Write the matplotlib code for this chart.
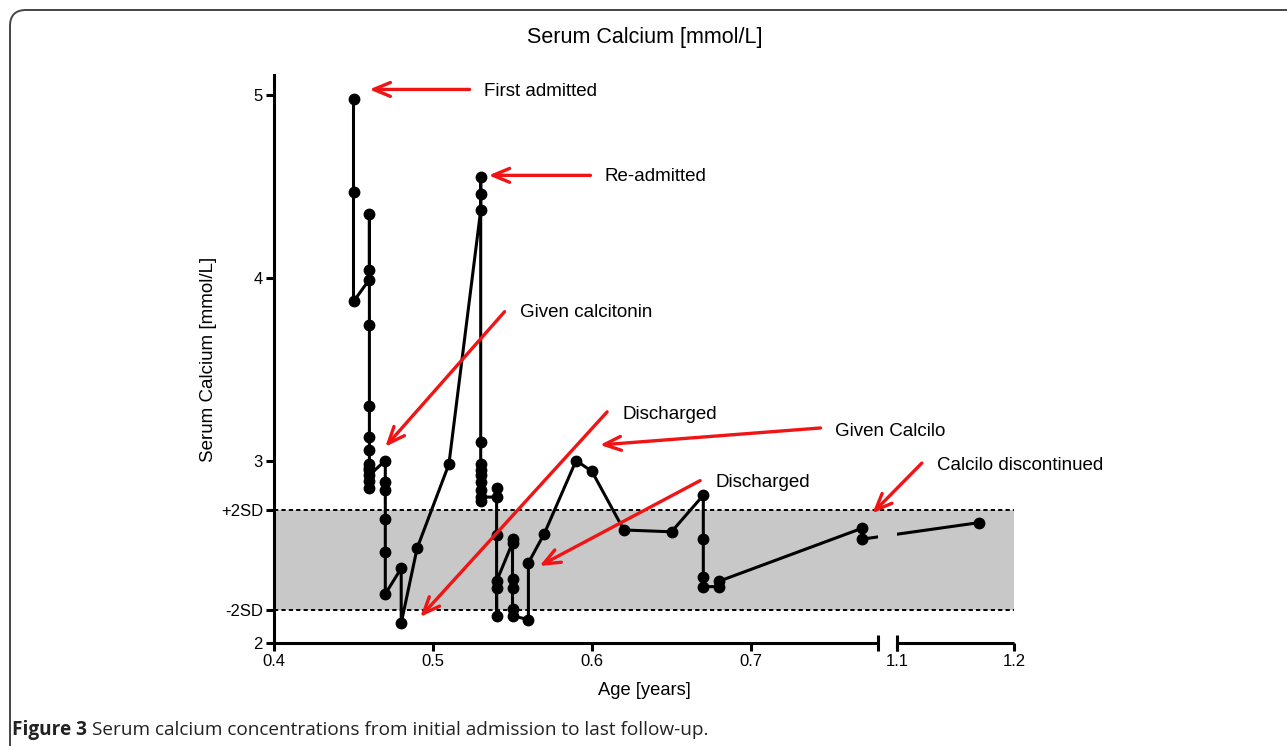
import numpy as np
import matplotlib
matplotlib.use("Agg")
import matplotlib.pyplot as plt
from matplotlib import font_manager
from matplotlib.path import Path
from matplotlib.patches import FancyBboxPatch
from matplotlib.transforms import IdentityTransform, blended_transform_factory

plt.rcParams['font.family'] = ['Liberation Sans', 'DejaVu Sans']

# serum calcium readings in time order (age in years, mmol/L)
age = [0.45, 0.45, 0.45,
       0.46, 0.46, 0.46, 0.46, 0.46, 0.46, 0.46, 0.46, 0.46, 0.46, 0.46, 0.46, 0.46,
       0.47, 0.47, 0.47, 0.47, 0.47, 0.47,
       0.48, 0.48, 0.49, 0.51,
       0.53, 0.53, 0.53, 0.53, 0.53, 0.53, 0.53, 0.53, 0.53, 0.53, 0.53,
       0.54, 0.54, 0.54, 0.54, 0.54, 0.54,
       0.55, 0.55, 0.55, 0.55, 0.55, 0.55,
       0.56, 0.56, 0.57, 0.59, 0.60, 0.62, 0.65,
       0.67, 0.67, 0.67, 0.67, 0.68, 0.68,
       0.77, 0.77, 1.17]
calcium = [4.98, 4.47, 3.87,
           3.99, 4.04, 4.35, 3.74, 3.30, 3.13, 3.06, 2.98, 2.96, 2.89, 2.85, 2.95, 2.92,
           3.00, 2.88, 2.84, 2.68, 2.50, 2.27,
           2.41, 2.11, 2.52, 2.98,
           4.37, 4.46, 4.55, 3.10, 2.98, 2.95, 2.92, 2.88, 2.84, 2.78, 2.80,
           2.80, 2.85, 2.59, 2.30, 2.15, 2.34,
           2.55, 2.57, 2.35, 2.30, 2.19, 2.15,
           2.13, 2.44, 2.60, 3.00, 2.94, 2.62, 2.61,
           2.81, 2.57, 2.36, 2.31, 2.31, 2.34,
           2.63, 2.57, 2.66]

sd_low = 2.18
sd_high = 2.73

x_ticks = [0.4, 0.5, 0.6, 0.7, 1.1, 1.2]
x_tick_labels = ['0.4', '0.5', '0.6', '0.7', '1.1', '1.2']
y_ticks = [2, sd_low, sd_high, 3, 4, 5]
y_tick_labels = ['2', '-2SD', '+2SD', '3', '4', '5']

note_labels = ['First admitted', 'Re-admitted', 'Given calcitonin', 'Discharged',
               'Given Calcilo', 'Discharged', 'Calcilo discontinued']
note_tip = [(0.460, 5.03), (0.535, 4.56), (0.470, 3.075), (0.492, 2.144),
            (0.605, 3.085), (0.567, 2.423), (0.7763, 2.711)]
note_tail = [(0.523, 5.03), (0.599, 4.56), (0.545, 3.814), (0.6095, 3.266),
             (0.7437, 3.178), (0.668, 2.89), (1.1214, 2.986)]
note_text = [(0.532, 5.02), (0.608, 4.555), (0.555, 3.81), (0.619, 3.25),
             (0.753, 3.16), (0.6775, 2.88), (1.134, 2.975)]

# broken x axis: 0.4-0.78, small gap, then 1.1-1.2 on a tighter scale
break_lo = 0.78
break_hi = 1.1
gap_w = 0.0117
right_k = 0.737


def forward(x):
    x = np.asarray(x, dtype=float)
    mid = break_lo + (x - break_lo) / (break_hi - break_lo) * gap_w
    hi = break_lo + gap_w + (x - break_hi) * right_k
    return np.where(x <= break_lo, x, np.where(x < break_hi, mid, hi))


def inverse(y):
    y = np.asarray(y, dtype=float)
    mid = break_lo + (y - break_lo) / gap_w * (break_hi - break_lo)
    hi = break_hi + (y - break_lo - gap_w) / right_k
    return np.where(y <= break_lo, y, np.where(y < break_lo + gap_w, mid, hi))


fig = plt.figure(figsize=(12.87, 7.46), dpi=100)
ax = fig.add_axes([274 / 1287, 102.7 / 746, 740 / 1287, 568.3 / 746])
ax.set_xscale('function', functions=(forward, inverse))
ax.set_xlim(0.4, 1.2)
ax.set_ylim(2, 5.109)

ax.axhspan(sd_low, sd_high, color='#c8c8c8', lw=0, zorder=0)
for level in (sd_low, sd_high):
    ax.axhline(level, color='black', lw=1.4, ls=(0, (2.2, 1.6)), zorder=1)

line, = ax.plot(age, calcium, '-o', color='black', lw=2.2, ms=7.5, zorder=3)

# hide the line inside the axis break
x0, x1 = forward(0.4), forward(1.2)
g0 = float((forward(break_lo) - x0) / (x1 - x0))
g1 = float((forward(break_hi) - x0) / (x1 - x0))
verts = [(-0.2, -0.2), (g0, -0.2), (g0, 1.2), (-0.2, 1.2), (-0.2, -0.2),
         (g1, -0.2), (1.2, -0.2), (1.2, 1.2), (g1, 1.2), (g1, -0.2)]
codes = [Path.MOVETO, Path.LINETO, Path.LINETO, Path.LINETO, Path.CLOSEPOLY] * 2
line.set_clip_path(Path(verts, codes), ax.transAxes)

for s in ('top', 'right', 'bottom'):
    ax.spines[s].set_visible(False)
ax.spines['left'].set_linewidth(2.2)

trans = blended_transform_factory(ax.transData, ax.transAxes)
ax.plot([0.4, break_lo], [0, 0], color='black', lw=2.2, transform=trans,
        clip_on=False, solid_capstyle='butt')
ax.plot([break_hi, 1.2], [0, 0], color='black', lw=2.2, transform=trans,
        clip_on=False, solid_capstyle='butt')
ax.plot([break_lo, break_hi], [0, 0], ls='none', marker='|', ms=12, mew=2.2,
        color='black', transform=trans, clip_on=False)

ax.set_xticks(x_ticks)
ax.set_xticklabels(x_tick_labels)
ax.xaxis.set_minor_locator(matplotlib.ticker.NullLocator())
ax.set_yticks(y_ticks)
ax.set_yticklabels(y_tick_labels)
ax.tick_params(axis='both', direction='out', length=6, width=2.2, labelsize=12, pad=2)

ax.set_xlabel('Age [years]', fontsize=13.2, labelpad=9)
ax.set_ylabel('Serum Calcium [mmol/L]', fontsize=13.5, labelpad=3)
fig.text(645 / 1287, (746 - 38) / 746, 'Serum Calcium [mmol/L]', fontsize=15.5,
         ha='center', va='center')

for label, tip, tail, pos in zip(note_labels, note_tip, note_tail, note_text):
    ax.annotate('', xy=tip, xytext=tail, annotation_clip=False,
                arrowprops=dict(arrowstyle='->,head_length=1.2,head_width=0.5',
                                color='#f01414', lw=2.4, shrinkA=0, shrinkB=0))
    ax.text(pos[0], pos[1], label, fontsize=13.5, ha='left', va='center')

# rounded frame around the figure
frame = FancyBboxPatch((10, -60), 1400, 736 + 60, boxstyle='round,pad=0,rounding_size=16',
                       transform=IdentityTransform(), fill=False, lw=1.4,
                       edgecolor='#444444')
fig.add_artist(frame)

# caption, sized to the width seen in the reference
names = {f.name for f in font_manager.fontManager.ttflist}
cap_font = 'Liberation Sans Narrow' if 'Liberation Sans Narrow' in names else 'Open Sans'
cap_y = (746 - 730) / 746
fs = 12
t1 = fig.text(12 / 1287, cap_y, 'Figure 3', fontsize=fs, fontweight='bold',
              family=cap_font, va='center', color='#222222')
t2 = fig.text(0.1, cap_y, 'Serum calcium concentrations from initial admission to last follow-up.',
              fontsize=fs, family=cap_font, va='center', color='#222222')
renderer = fig.canvas.get_renderer()
w1 = t1.get_window_extent(renderer).width
w2 = t2.get_window_extent(renderer).width
fs = fs * 695 / (w1 + w2 + 0.28 * fs * 100 / 72)
t1.set_fontsize(fs)
t2.set_fontsize(fs)
w1 = t1.get_window_extent(renderer).width
t2.set_x((12 + w1 + 0.28 * fs * 100 / 72) / 1287)

fig.savefig('out.png', dpi=100)
